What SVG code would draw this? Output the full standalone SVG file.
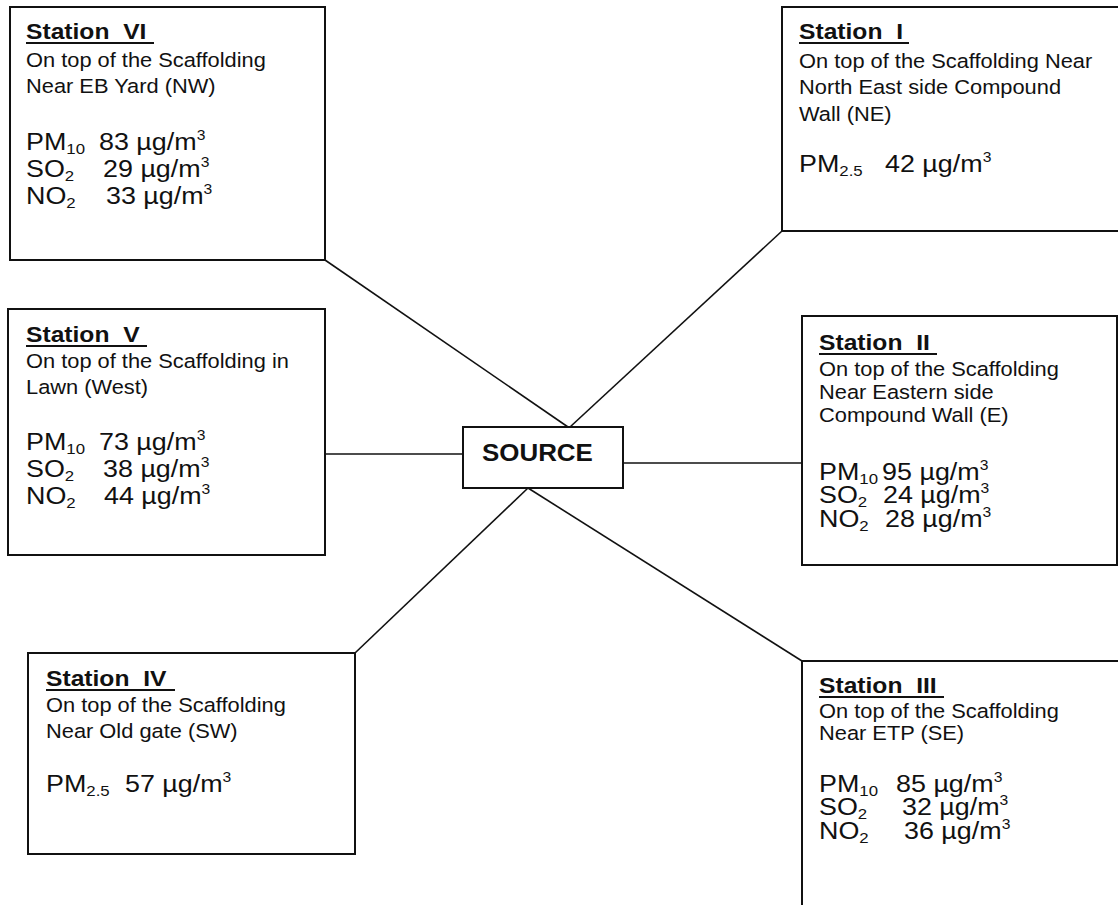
<svg xmlns="http://www.w3.org/2000/svg" width="1118" height="905" viewBox="0 0 1118 905">
<style>
text{font-family:"Liberation Sans",Arial,sans-serif;fill:#111}
.t{font-size:22px;font-weight:bold}
.b{font-size:19.5px}
.d{font-size:24px}
.sub{font-size:15px}
.sup{font-size:14px}
.box{fill:#fff;stroke:#111;stroke-width:2}
.ul{stroke:#111;stroke-width:2}
.c line{stroke:#111;stroke-width:1.6}
.src{font-size:24px;font-weight:bold}
</style>
<rect width="1118" height="905" fill="#fff"/>
<g class="c" id="connectors">
<line x1="325" y1="260" x2="568" y2="427"/>
<line x1="570" y1="427" x2="782" y2="231"/>
<line x1="326" y1="454" x2="463" y2="454"/>
<line x1="623" y1="463" x2="802" y2="463"/>
<line x1="528" y1="488" x2="355" y2="653"/>
<line x1="528" y1="488" x2="802" y2="661"/>
</g>
<g id="source">
<rect class="box" x="463" y="427" width="160" height="61"/>
<text class="src" transform="translate(482,461) scale(1.08,1)">SOURCE</text>
</g>
<g id="station6">
<rect class="box" x="10" y="7" width="315" height="253"/>
<line class="ul" x1="26" y1="43" x2="154" y2="43"/>
<g transform="translate(26,0) scale(1.12,1)">
<text class="t" x="0" y="39">Station&#160; VI</text>
<text class="b" x="0" y="67">On top of the Scaffolding</text>
<text class="b" x="0" y="93">Near EB Yard (NW)</text>
<text class="d" x="0" y="150">PM<tspan class="sub" dy="4">10</tspan><tspan x="65.2" dy="-4">83 µg/m</tspan><tspan class="sup" dy="-10">3</tspan></text>
<text class="d" x="0" y="177">SO<tspan class="sub" dy="4">2</tspan><tspan x="68.8" dy="-4">29 µg/m</tspan><tspan class="sup" dy="-10">3</tspan></text>
<text class="d" x="0" y="204">NO<tspan class="sub" dy="4">2</tspan><tspan x="71.4" dy="-4">33 µg/m</tspan><tspan class="sup" dy="-10">3</tspan></text>
</g>
</g>
<g id="station1">
<rect class="box" x="782" y="7" width="350" height="224"/>
<line class="ul" x1="799" y1="43" x2="909" y2="43"/>
<g transform="translate(799,0) scale(1.12,1)">
<text class="t" x="0" y="39">Station&#160; I</text>
<text class="b" x="0" y="68">On top of the Scaffolding Near</text>
<text class="b" x="0" y="94">North East side Compound</text>
<text class="b" x="0" y="121">Wall (NE)</text>
<text class="d" x="0" y="172">PM<tspan class="sub" dy="4">2.5</tspan><tspan x="76.8" dy="-4">42 µg/m</tspan><tspan class="sup" dy="-10">3</tspan></text>
</g>
</g>
<g id="station5">
<rect class="box" x="8" y="309" width="317" height="246"/>
<line class="ul" x1="26" y1="346" x2="147" y2="346"/>
<g transform="translate(26,0) scale(1.12,1)">
<text class="t" x="0" y="342">Station&#160; V</text>
<text class="b" x="0" y="368">On top of the Scaffolding in</text>
<text class="b" x="0" y="394">Lawn (West)</text>
<text class="d" x="0" y="450">PM<tspan class="sub" dy="4">10</tspan><tspan x="65.2" dy="-4">73 µg/m</tspan><tspan class="sup" dy="-10">3</tspan></text>
<text class="d" x="0" y="477">SO<tspan class="sub" dy="4">2</tspan><tspan x="68.8" dy="-4">38 µg/m</tspan><tspan class="sup" dy="-10">3</tspan></text>
<text class="d" x="0" y="504">NO<tspan class="sub" dy="4">2</tspan><tspan x="69.6" dy="-4">44 µg/m</tspan><tspan class="sup" dy="-10">3</tspan></text>
</g>
</g>
<g id="station2">
<rect class="box" x="802" y="316" width="315" height="249"/>
<line class="ul" x1="819" y1="354" x2="937" y2="354"/>
<g transform="translate(819,0) scale(1.12,1)">
<text class="t" x="0" y="350">Station&#160; II</text>
<text class="b" x="0" y="376">On top of the Scaffolding</text>
<text class="b" x="0" y="399">Near Eastern side</text>
<text class="b" x="0" y="422">Compound Wall (E)</text>
<text class="d" x="0" y="480">PM<tspan class="sub" dy="4">10</tspan><tspan x="56.3" dy="-4">95 µg/m</tspan><tspan class="sup" dy="-10">3</tspan></text>
<text class="d" x="0" y="503">SO<tspan class="sub" dy="4">2</tspan><tspan x="57.1" dy="-4">24 µg/m</tspan><tspan class="sup" dy="-10">3</tspan></text>
<text class="d" x="0" y="527">NO<tspan class="sub" dy="4">2</tspan><tspan x="58.9" dy="-4">28 µg/m</tspan><tspan class="sup" dy="-10">3</tspan></text>
</g>
</g>
<g id="station4">
<rect class="box" x="28" y="653" width="327" height="201"/>
<line class="ul" x1="46" y1="690" x2="175" y2="690"/>
<g transform="translate(46,0) scale(1.12,1)">
<text class="t" x="0" y="686">Station&#160; IV</text>
<text class="b" x="0" y="712">On top of the Scaffolding</text>
<text class="b" x="0" y="738">Near Old gate (SW)</text>
<text class="d" x="0" y="792">PM<tspan class="sub" dy="4">2.5</tspan><tspan x="70.5" dy="-4">57 µg/m</tspan><tspan class="sup" dy="-10">3</tspan></text>
</g>
</g>
<g id="station3">
<rect class="box" x="802" y="661" width="330" height="260"/>
<line class="ul" x1="819" y1="697" x2="944" y2="697"/>
<g transform="translate(819,0) scale(1.12,1)">
<text class="t" x="0" y="693">Station&#160; III</text>
<text class="b" x="0" y="718">On top of the Scaffolding</text>
<text class="b" x="0" y="740">Near ETP (SE)</text>
<text class="d" x="0" y="792">PM<tspan class="sub" dy="4">10</tspan><tspan x="68.8" dy="-4">85 µg/m</tspan><tspan class="sup" dy="-10">3</tspan></text>
<text class="d" x="0" y="815">SO<tspan class="sub" dy="4">2</tspan><tspan x="74.1" dy="-4">32 µg/m</tspan><tspan class="sup" dy="-10">3</tspan></text>
<text class="d" x="0" y="839">NO<tspan class="sub" dy="4">2</tspan><tspan x="75.9" dy="-4">36 µg/m</tspan><tspan class="sup" dy="-10">3</tspan></text>
</g>
</g>
</svg>
